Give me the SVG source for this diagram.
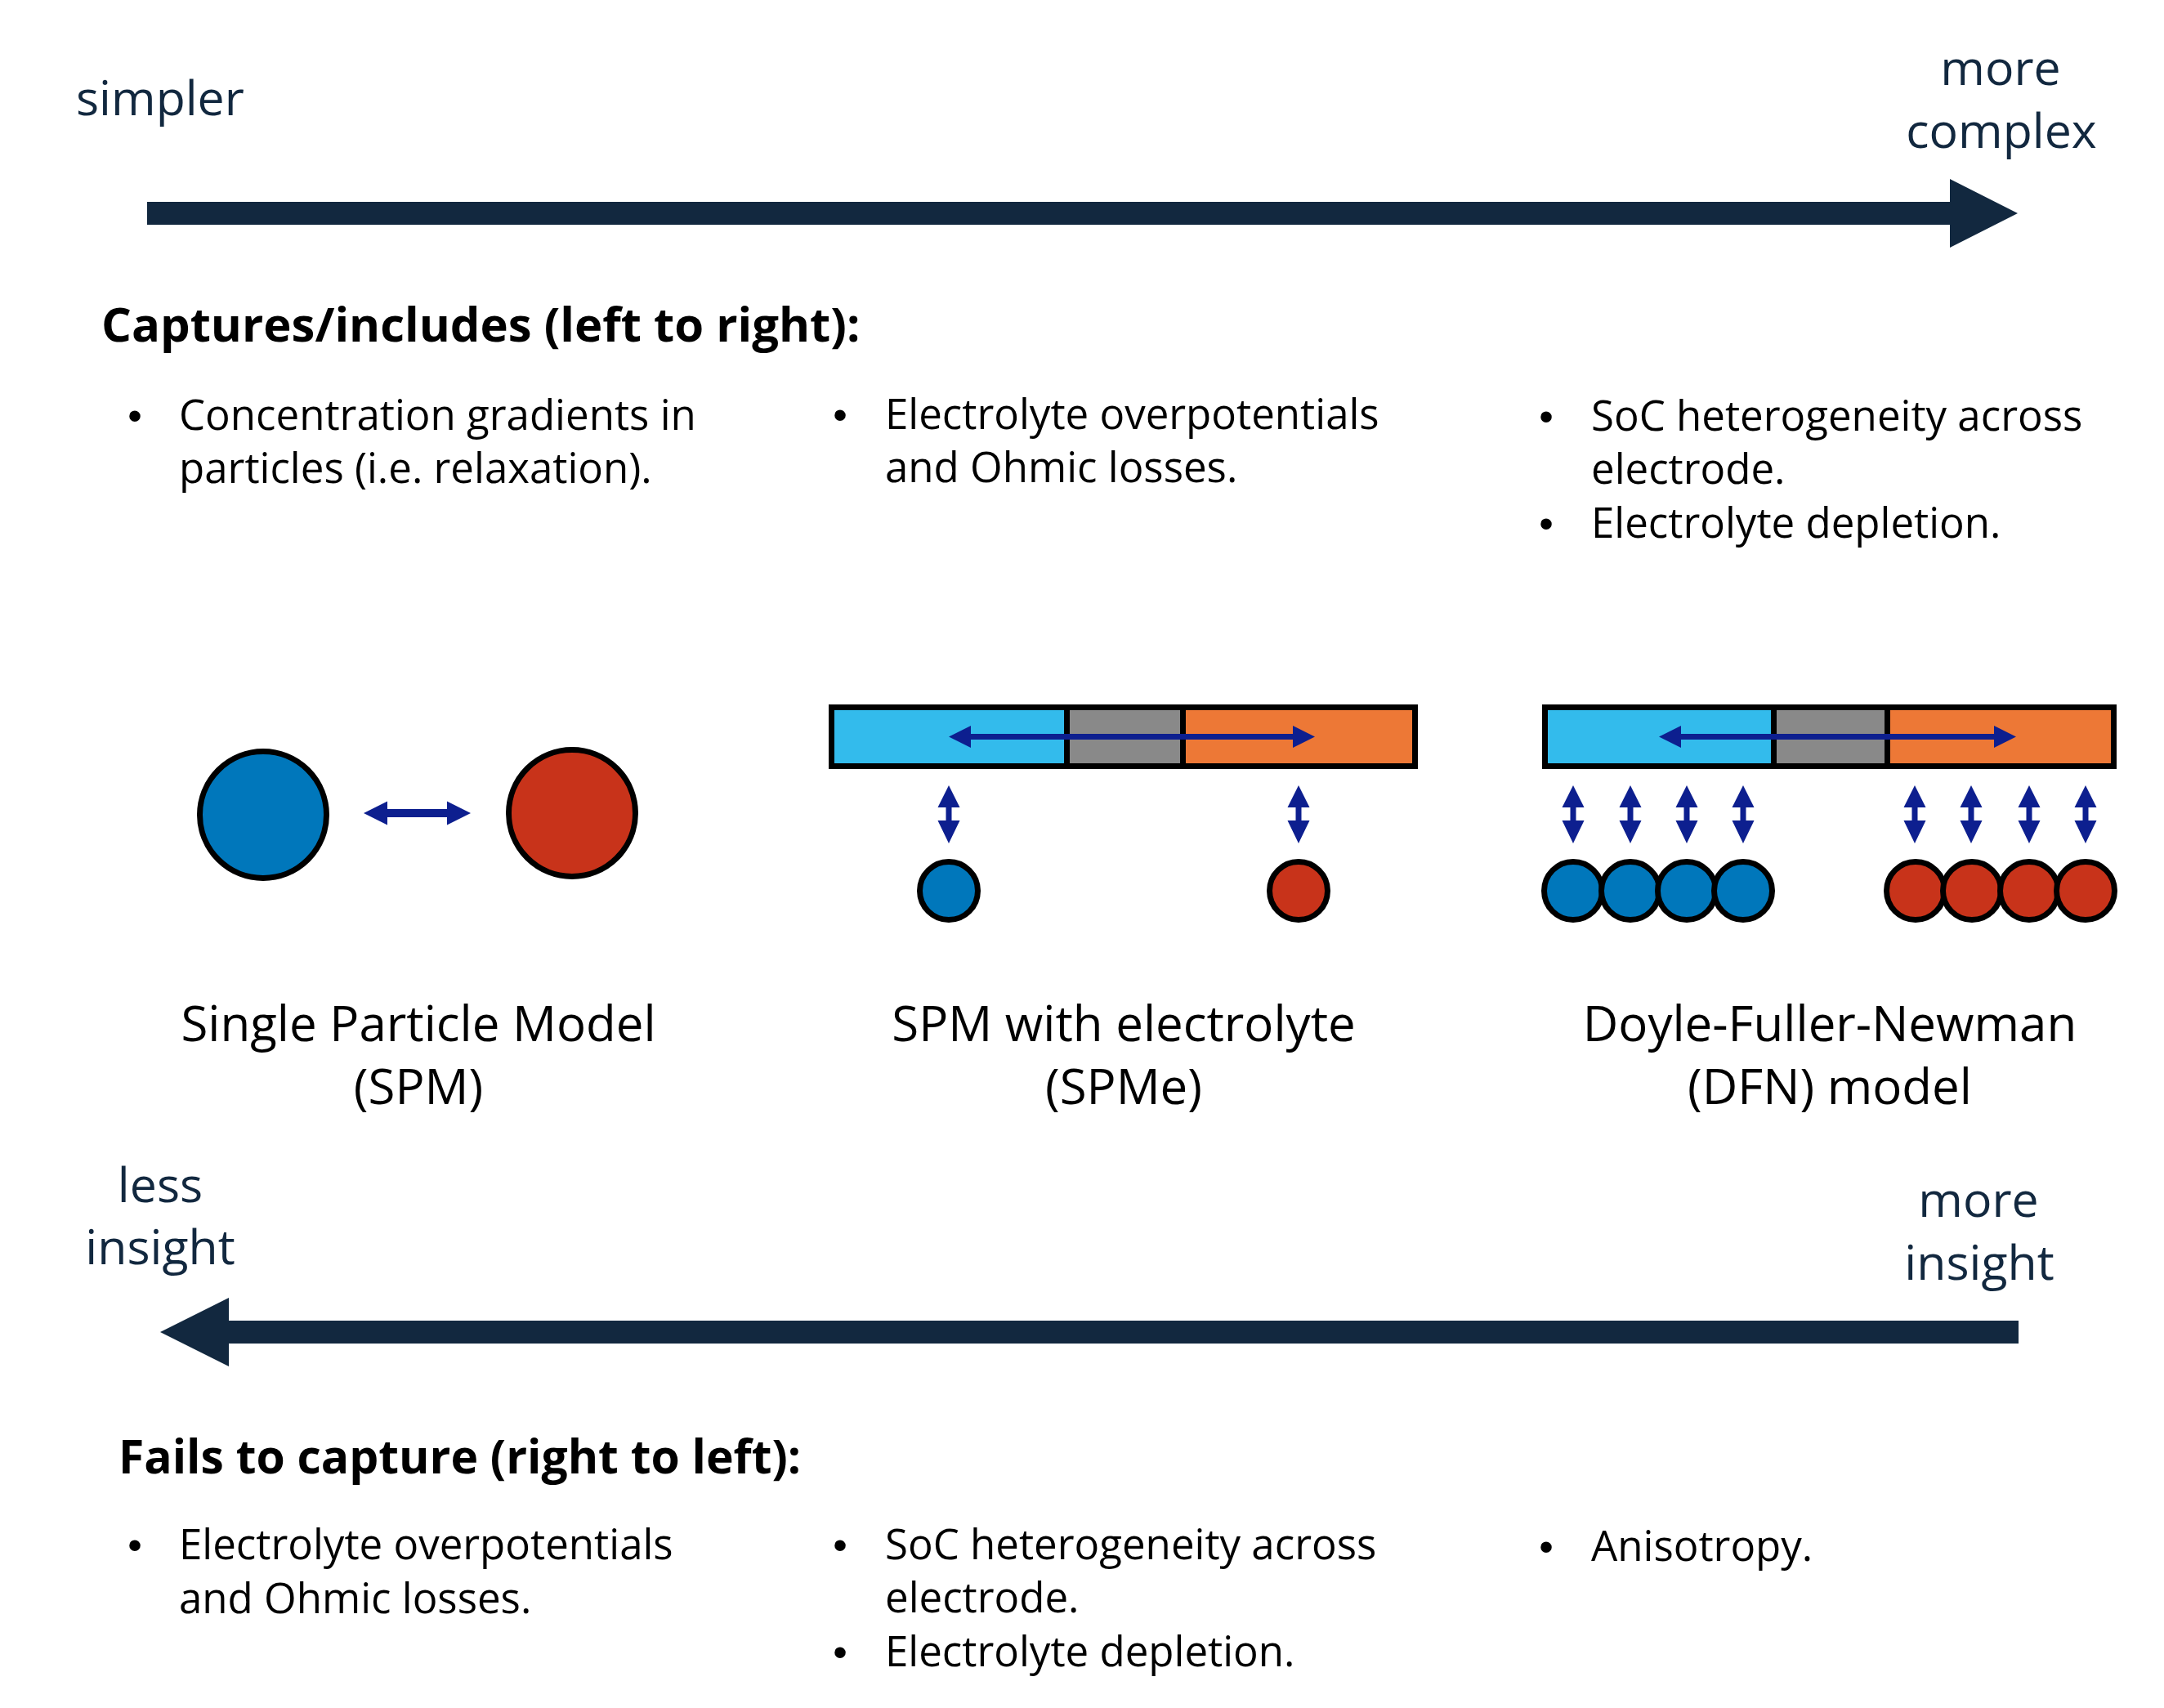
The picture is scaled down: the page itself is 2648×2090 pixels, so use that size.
<svg xmlns="http://www.w3.org/2000/svg" width="2648" height="2090" viewBox="0 0 2648 2090">
<defs>
<style>
.lbl{font-family:"Open Sans","Noto Sans","Liberation Sans",sans-serif;font-size:59px;fill:#12283F;}
.mdl{font-family:"Open Sans","Noto Sans","Liberation Sans",sans-serif;font-size:60px;fill:#000;text-anchor:middle;}
.hd{font-family:"Open Sans","Noto Sans","Liberation Sans",sans-serif;font-size:58px;font-weight:bold;fill:#000;}
.hd2{font-size:57px;}
.bt{font-family:"Open Sans","Noto Sans","Liberation Sans",sans-serif;font-size:51px;fill:#000;}
.bu{font-family:"Liberation Sans","Arial",sans-serif;font-size:50px;fill:#000;text-anchor:middle;}
.mid{text-anchor:middle;}
.big{fill:#12283F;}
.da{fill:#0D1F8F;}
.pb{fill:#0077BB;stroke:#000;stroke-width:7;}
.pr{fill:#C8331A;stroke:#000;stroke-width:7;}
.frame{fill:none;stroke:#000;stroke-width:7;}
.div{stroke:#000;stroke-width:7;}
</style>
<path id="vda" d="M0,-35.5 L13.5,-8.5 L3.5,-8.5 L3.5,7.5 L13.5,7.5 L0,35.5 L-13.5,7.5 L-3.5,7.5 L-3.5,-8.5 L-13.5,-8.5 Z"/>
</defs>
<rect x="0" y="0" width="2648" height="2090" fill="#fff"/>

<g id="axis-complexity">
<polygon class="big" points="180,247 2386,247 2386,219 2469,261 2386,303 2386,275 180,275"/>
<text class="lbl" x="93" y="141">simpler</text>
<text class="lbl mid" x="2448" y="104">more</text>
<text class="lbl mid" x="2449" y="181">complex</text>
</g>

<g id="captures">
<text class="hd" x="124" y="418">Captures/includes (left to right):</text>
<text class="bu" x="165" y="526">•</text>
<text class="bt" x="219" y="526">Concentration gradients in</text>
<text class="bt" x="219" y="591">particles (i.e. relaxation).</text>
<text class="bu" x="1028" y="525">•</text>
<text class="bt" x="1083" y="525">Electrolyte overpotentials</text>
<text class="bt" x="1083" y="590">and Ohmic losses.</text>
<text class="bu" x="1892" y="527">•</text>
<text class="bt" x="1947" y="527">SoC heterogeneity across</text>
<text class="bt" x="1947" y="592">electrode.</text>
<text class="bu" x="1892" y="658">•</text>
<text class="bt" x="1947" y="658">Electrolyte depletion.</text>
</g>

<g id="spm">
<circle class="pb" cx="322" cy="997" r="77.5"/>
<circle class="pr" cx="700" cy="995" r="77.5"/>
<text class="mdl" x="512" y="1274">Single Particle Model</text>
<text class="mdl" x="512" y="1351">(SPM)</text>
</g>

<g id="spme">
<rect x="1014" y="862" width="291" height="79" fill="#33BBEC"/>
<rect x="1305" y="862" width="142" height="79" fill="#898989"/>
<rect x="1447" y="862" width="288" height="79" fill="#ED7836"/>
<line class="div" x1="1305.5" y1="862" x2="1305.5" y2="941"/>
<line class="div" x1="1447.5" y1="862" x2="1447.5" y2="941"/>
<rect class="frame" x="1017.5" y="865.5" width="714" height="72"/>
<circle class="pb" cx="1161" cy="1090" r="35.5"/>
<circle class="pr" cx="1589" cy="1090" r="35.5"/>
<text class="mdl" x="1375" y="1274">SPM with electrolyte</text>
<text class="mdl" x="1375" y="1351">(SPMe)</text>
</g>

<g id="dfn">
<rect x="1887" y="862" width="283" height="79" fill="#33BBEC"/>
<rect x="2170" y="862" width="139" height="79" fill="#898989"/>
<rect x="2309" y="862" width="281" height="79" fill="#ED7836"/>
<line class="div" x1="2170.5" y1="862" x2="2170.5" y2="941"/>
<line class="div" x1="2309.5" y1="862" x2="2309.5" y2="941"/>
<rect class="frame" x="1890.5" y="865.5" width="696" height="72"/>
<circle class="pb" cx="1925" cy="1090" r="35.5"/>
<circle class="pb" cx="1995" cy="1090" r="35.5"/>
<circle class="pb" cx="2064" cy="1090" r="35.5"/>
<circle class="pb" cx="2133" cy="1090" r="35.5"/>
<circle class="pr" cx="2344" cy="1090" r="35.5"/>
<circle class="pr" cx="2413" cy="1090" r="35.5"/>
<circle class="pr" cx="2483" cy="1090" r="35.5"/>
<circle class="pr" cx="2552" cy="1090" r="35.5"/>
<text class="mdl" x="2239" y="1274">Doyle-Fuller-Newman</text>
<text class="mdl" x="2239" y="1351">(DFN) model</text>
</g>

<g id="connectors">
<polygon class="da" points="445,995 474,980.5 474,990 547,990 547,980.5 576,995 547,1009.5 547,1000 474,1000 474,1009.5"/>
<polygon class="da" points="1161,901.5 1188,888 1188,898 1582,898 1582,888 1609,901.5 1582,915 1582,905 1188,905 1188,915"/>
<polygon class="da" points="2030,901.5 2057,888 2057,898 2440,898 2440,888 2467,901.5 2440,915 2440,905 2057,905 2057,915"/>
<use href="#vda" class="da" x="1161" y="996.5"/>
<use href="#vda" class="da" x="1589" y="996.5"/>
<use href="#vda" class="da" x="1925" y="996.5"/>
<use href="#vda" class="da" x="1995" y="996.5"/>
<use href="#vda" class="da" x="2064" y="996.5"/>
<use href="#vda" class="da" x="2133" y="996.5"/>
<use href="#vda" class="da" x="2343" y="996.5"/>
<use href="#vda" class="da" x="2412" y="996.5"/>
<use href="#vda" class="da" x="2483" y="996.5"/>
<use href="#vda" class="da" x="2552" y="996.5"/>
</g>

<g id="axis-insight">
<polygon class="big" points="2470,1616 280,1616 280,1588 196,1630 280,1672 280,1644 2470,1644"/>
<text class="lbl mid" x="196" y="1471">less</text>
<text class="lbl mid" x="196" y="1547">insight</text>
<text class="lbl mid" x="2421" y="1489">more</text>
<text class="lbl mid" x="2422" y="1566">insight</text>
</g>

<g id="fails">
<text class="hd hd2" x="145" y="1803">Fails to capture (right to left):</text>
<text class="bu" x="165" y="1908">•</text>
<text class="bt" x="219" y="1908">Electrolyte overpotentials</text>
<text class="bt" x="219" y="1974">and Ohmic losses.</text>
<text class="bu" x="1028" y="1908">•</text>
<text class="bt" x="1083" y="1908">SoC heterogeneity across</text>
<text class="bt" x="1083" y="1973">electrode.</text>
<text class="bu" x="1028" y="2039">•</text>
<text class="bt" x="1083" y="2039">Electrolyte depletion.</text>
<text class="bu" x="1892" y="1910">•</text>
<text class="bt" x="1947" y="1910">Anisotropy.</text>
</g>
</svg>
